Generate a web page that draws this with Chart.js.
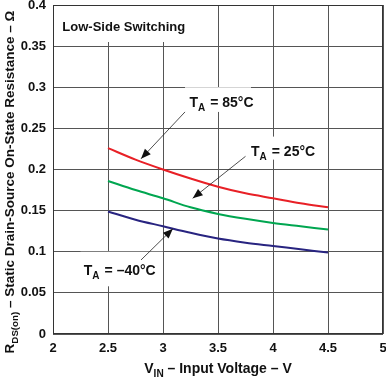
<!DOCTYPE html>
<html>
<head>
<meta charset="utf-8">
<script src="https://cdn.jsdelivr.net/npm/chart.js@4"></script>
<style>
  html, body { margin: 0; padding: 0; background: #fff; }
  #wrap { width: 386px; height: 377px; position: relative; }
</style>
</head>
<body>
<div id="wrap"><canvas id="rdsChart"></canvas></div>
<script>
// RDS(on) vs input voltage, low-side switching

const vin = [2.5, 2.75, 3, 3.25, 3.5, 3.75, 4, 4.25, 4.5]
const r85 = [0.226, 0.212, 0.200, 0.189, 0.179, 0.171, 0.165, 0.159, 0.154]
const r25 = [0.186, 0.175, 0.165, 0.154, 0.146, 0.140, 0.135, 0.131, 0.127]
const rm40 = [0.149, 0.139, 0.131, 0.123, 0.116, 0.111, 0.107, 0.103, 0.099]
const xTicks = [2, 2.5, 3, 3.5, 4, 4.5, 5]
const yTicks = [0, 0.05, 0.1, 0.15, 0.2, 0.25, 0.3, 0.35, 0.4]

const FONT = '"Liberation Sans", Arial, sans-serif'

function pts(ys) {
  return vin.map((x, i) => ({ x: x, y: ys[i] }))
}

// text with a subscript part: [[text, sub?], ...]
function drawRich(ctx, parts, x, y, size) {
  let w = 0
  parts.forEach(p => {
    ctx.font = 'bold ' + (p[1] ? size * 0.72 : size) + 'px ' + FONT
    w += ctx.measureText(p[0]).width
  })
  let cx = x - w / 2
  parts.forEach(p => {
    ctx.font = 'bold ' + (p[1] ? size * 0.72 : size) + 'px ' + FONT
    ctx.fillText(p[0], cx, p[1] ? y + size * 0.3 : y)
    cx += ctx.measureText(p[0]).width
  })
}

function arrow(ctx, x1, y1, x2, y2) {
  ctx.save()
  ctx.strokeStyle = '#222'
  ctx.fillStyle = '#111'
  ctx.lineWidth = 0.8
  ctx.beginPath()
  ctx.moveTo(x1, y1)
  ctx.lineTo(x2, y2)
  ctx.stroke()
  const a = Math.atan2(y2 - y1, x2 - x1)
  const L = 10, W = 4
  ctx.beginPath()
  ctx.moveTo(x2, y2)
  ctx.lineTo(x2 - L * Math.cos(a) + W * Math.sin(a), y2 - L * Math.sin(a) - W * Math.cos(a))
  ctx.lineTo(x2 - L * Math.cos(a) - W * Math.sin(a), y2 - L * Math.sin(a) + W * Math.cos(a))
  ctx.closePath()
  ctx.fill()
  ctx.restore()
}

// labels and titles, positioned in data units
const notes = {
  id: 'notes',
  beforeDatasetsDraw(chart) {
    const { ctx, scales: { x, y } } = chart
    ctx.save()
    ctx.fillStyle = '#fff'
    // white boxes behind the labels
    const box = (x0, y0, x1, y1) => {
      const a = x.getPixelForValue(x0), b = y.getPixelForValue(y0)
      ctx.fillRect(a, b, x.getPixelForValue(x1) - a, y.getPixelForValue(y1) - b)
    }
    box(2.01, 0.399, 3.3, 0.355)
    box(3.2, 0.3, 3.8, 0.27)
    box(3.7, 0.24, 4.3, 0.212)
    box(2.25, 0.1, 3.0, 0.058)
    ctx.restore()
  },
  afterDatasetsDraw(chart) {
    const { ctx, scales: { x, y }, chartArea } = chart
    ctx.save()
    ctx.fillStyle = '#111'
    ctx.textBaseline = 'middle'
    ctx.textAlign = 'left'
    ctx.font = 'bold 13px ' + FONT
    ctx.fillText('Low-Side Switching', x.getPixelForValue(2.085), y.getPixelForValue(0.373))

    const label = (t, xv, yv) => {
      const px = x.getPixelForValue(xv), py = y.getPixelForValue(yv)
      ctx.font = 'bold 14px ' + FONT
      ctx.fillText('T', px, py)
      let w = ctx.measureText('T').width
      ctx.font = 'bold 10px ' + FONT
      ctx.fillText('A', px + w, py + 5)
      w += ctx.measureText('A').width
      ctx.font = 'bold 14px ' + FONT
      ctx.fillText(t, px + w + 5, py)
    }
    label('= 85°C', 3.24, 0.281)
    label('= 25°C', 3.8, 0.221)
    label('= \u201340°C', 2.28, 0.076)

    arrow(ctx, x.getPixelForValue(3.2), y.getPixelForValue(0.27), x.getPixelForValue(2.8), y.getPixelForValue(0.213))
    arrow(ctx, x.getPixelForValue(3.75), y.getPixelForValue(0.216), x.getPixelForValue(3.27), y.getPixelForValue(0.165))
    arrow(ctx, x.getPixelForValue(2.8), y.getPixelForValue(0.09), x.getPixelForValue(3.09), y.getPixelForValue(0.128))

    // axis titles
    ctx.textAlign = 'left'
    ctx.textBaseline = 'alphabetic'
    const cx = (chartArea.left + chartArea.right) / 2
    drawRich(ctx, [['V'], ['IN', true], [' \u2013 Input Voltage \u2013 V']], cx, 373, 14)
    ctx.save()
    ctx.translate(14, 182)
    ctx.rotate(-Math.PI / 2)
    drawRich(ctx, [['R'], ['DS(on)', true], [' \u2013 Static Drain-Source On-State Resistance \u2013 \u03a9']], 0, 0, 13.5)
    ctx.restore()

    // plot frame
    ctx.strokeStyle = '#333'
    ctx.lineWidth = 1
    ctx.strokeRect(chartArea.left + 0.5, chartArea.top + 0.5, chartArea.right - chartArea.left - 1, chartArea.bottom - chartArea.top - 1)
    ctx.restore()
  }
}

const rctx = document.getElementById('rdsChart').getContext('2d')
const rdsChart = new Chart(rctx, {
  type: 'line',
  data: {
    datasets: [
      { label: 'TA = 85°C', data: pts(r85), borderColor: 'rgb(232, 32, 38)' },
      { label: 'TA = 25°C', data: pts(r25), borderColor: 'rgb(0, 166, 80)' },
      { label: 'TA = -40°C', data: pts(rm40), borderColor: 'rgb(40, 36, 128)' }
    ]
  },
  options: {
    responsive: true,
    maintainAspectRatio: false,
    animation: false,
    layout: { padding: { top: 5, right: 3, left: 0, bottom: 0 } },
    elements: {
      line: { borderWidth: 2, cubicInterpolationMode: 'monotone', fill: false },
      point: { radius: 0 }
    },
    plugins: {
      legend: { display: false },
      tooltip: { enabled: false }
    },
    scales: {
      x: {
        type: 'linear',
        min: 2,
        max: 5,
        afterBuildTicks: s => { s.ticks = xTicks.map(v => ({ value: v })) },
        afterFit: s => { s.height = 43; s.paddingLeft = 0; s.paddingRight = 0 },
        grid: { color: '#555', lineWidth: 1, drawTicks: false },
        border: { display: false },
        ticks: {
          color: '#111',
          padding: 7,
          font: { family: FONT, size: 13, weight: 'bold' },
          callback: v => String(v)
        }
      },
      y: {
        min: 0,
        max: 0.4,
        afterBuildTicks: s => { s.ticks = yTicks.map(v => ({ value: v })) },
        afterFit: s => { s.width = 53; s.paddingTop = 0; s.paddingBottom = 0 },
        grid: { color: '#555', lineWidth: 1, drawTicks: false },
        border: { display: false },
        ticks: {
          color: '#111',
          padding: 7,
          font: { family: FONT, size: 13, weight: 'bold' },
          callback: v => String(Math.round(v * 100) / 100)
        }
      }
    }
  },
  plugins: [notes]
})
</script>
</body>
</html>
